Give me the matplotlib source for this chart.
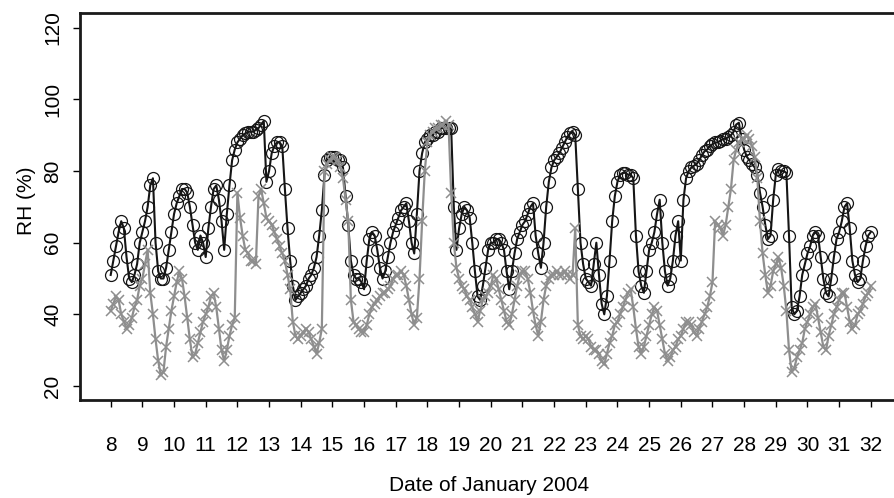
import numpy as np
import matplotlib
matplotlib.use("Agg")
import matplotlib.pyplot as plt

plt.rcParams['font.family'] = ['Liberation Sans', 'DejaVu Sans']

# RH readings, one every 2 hours, from 8 Jan 00:00 to 32 (= 1 Feb 00:00)
start_day = 8
step_hours = 2

# black line with circles
rh_black = [
    51, 55, 59, 63, 66, 64, 56, 50, 49, 51, 54, 60,          # 8
    63, 66, 70, 76, 78, 60, 52, 50, 50, 53, 58, 63,          # 9
    68, 71, 73, 75, 75, 74, 70, 65, 60, 58, 62, 60,          # 10
    56, 64, 70, 75, 76, 72, 66, 58, 68, 76, 83, 86,          # 11
    88, 89, 90, 90.5, 91, 91, 91, 91.5, 92, 93, 94, 77,      # 12
    80, 85, 87, 88, 88, 87, 75, 64, 55, 48, 44, 45,          # 13
    46, 47, 48, 50, 51, 53, 56, 62, 69, 79, 83, 84,          # 14
    84, 84, 83, 83, 81, 73, 65, 55, 51, 50, 50, 49,          # 15
    47, 55, 61, 63, 62, 58, 53, 50, 52, 56, 60, 63,          # 16
    65, 67, 69, 70, 71, 66, 60, 57, 68, 80, 85, 88,          # 17
    89, 90, 90, 91, 91, 92, 92, 92, 92, 92, 70, 58,          # 18
    64, 68, 70, 69, 67, 60, 52, 45, 44, 48, 53, 58,          # 19
    60, 60, 61, 61, 60, 58, 52, 47, 52, 57, 61, 63,          # 20
    65, 66, 68, 70, 71, 62, 57, 53, 60, 70, 77, 81,          # 21
    83, 84, 85, 86.5, 88, 89.5, 90.5, 91, 90, 75, 60, 54,    # 22
    50, 49, 48, 54, 60, 51, 43, 40, 45, 55, 66, 73,          # 23
    77, 79, 79.5, 79.5, 79, 79, 78, 62, 52, 48, 46, 52,      # 24
    58, 60, 63, 68, 72, 60, 52, 48, 50, 55, 62, 66,          # 25
    55, 72, 78, 80, 81, 81.5, 82, 83, 84.5, 85.5, 86, 87,    # 26
    87.5, 88, 88, 88.5, 89, 89, 89.5, 90, 91, 93, 93.5, 89,  # 27
    86, 84, 83, 82, 81, 79, 74, 70, 65, 61, 62, 72,          # 28
    79, 80.5, 80, 80, 79.5, 62, 42, 40, 41, 45, 51, 54,      # 29
    57, 59, 62, 63, 62, 56, 50, 46, 45, 50, 56, 61,          # 30
    63, 66, 70, 71, 64, 55, 51, 49, 50, 55, 59, 62,          # 31
    63,
]

# grey line with crosses
rh_grey = [
    41, 43, 45, 44, 40, 38, 36, 37, 39, 42, 44, 48,          # 8
    50, 54, 58, 46, 40, 33, 27, 23, 24, 31, 36, 41,          # 9
    45, 49, 52, 50, 45, 39, 33, 28, 29, 32, 35, 38,          # 10
    40, 42, 45, 46, 42, 36, 30, 27, 30, 34, 37, 39,          # 11
    74, 67, 62, 58, 57, 55, 55, 54, 73, 75, 71, 67,          # 12
    66, 65, 63, 61, 59, 57, 55, 51, 47, 38, 34, 33,          # 13
    34, 35, 36, 35, 33, 31, 29, 32, 36, 80, 82, 83,          # 14
    84, 84, 83, 81, 78, 72, 66, 44, 38, 37, 36, 35,          # 15
    35, 37, 40, 42, 43, 44, 45, 46, 46, 47, 48, 50,          # 16
    51, 51, 52, 51, 48, 44, 40, 37, 39, 50, 66, 80,          # 17
    88, 90, 91, 92, 92, 93, 93, 94, 93, 74, 60, 53,          # 18
    50, 48, 47, 45, 44, 42, 40, 38, 41, 44, 45, 46,          # 19
    48, 51, 50, 47, 44, 41, 38, 37, 40, 44, 48, 51,          # 20
    52, 52, 50, 46, 41, 37, 34, 38, 44, 48, 50, 51,          # 21
    51, 52, 51, 51, 52, 51, 50, 51, 64, 37, 34, 33,          # 22
    34, 33, 31, 30, 30, 29, 27, 26, 29, 32, 34, 37,          # 23
    38, 40, 42, 44, 46, 47, 42, 36, 31, 29, 31, 34,          # 24
    37, 40, 42, 41, 37, 33, 29, 27, 28, 30, 31, 33,          # 25
    34, 36, 38, 38, 37, 35, 34, 36, 38, 40, 42, 45,          # 26
    49, 66, 65, 64, 62, 65, 70, 75, 83, 86, 88, 89,          # 27
    89, 90, 89, 87, 84, 78, 66, 57, 51, 46, 48, 52,          # 28
    54, 56, 53, 48, 41, 30, 24, 25, 28, 30, 32, 36,          # 29
    38, 40, 42, 43, 39, 35, 31, 30, 34, 37, 40, 42,          # 30
    44, 46, 46, 42, 38, 36, 37, 40, 41, 43, 45, 46,          # 31
    48,
]

day_ticks = list(range(8, 33))
rh_ticks = [20, 40, 60, 80, 100, 120]

t = start_day + np.arange(len(rh_black)) * step_hours / 24

fig = plt.figure(figsize=(8.94, 4.98), dpi=100)
# axes run a bit past the right edge, like the cropped original
ax = fig.add_axes([0.0898, 0.1962, 0.9183, 0.7767])

ax.plot(t, rh_black, color='#151515', lw=1.5, marker='o', ms=8.6,
        mfc='none', mec='#151515', mew=0.9)
ax.plot(t, rh_grey, color='#8e8e8e', lw=1.6, marker='x', ms=6.5, mew=1.1)

ax.set_xlim(7.04, 32.96)
ax.set_ylim(16, 124)
ax.set_xticks(day_ticks)
ax.set_yticks(rh_ticks)

for s in ax.spines.values():
    s.set_linewidth(2)
    s.set_color('#1a1a1a')

ax.tick_params(axis='x', length=5, width=1, pad=21, labelsize=15)
ax.tick_params(axis='y', length=5, width=1, pad=8, labelsize=15, labelrotation=90)
for lab in ax.get_yticklabels():
    lab.set_va('center')

fig.text(27 / 894, 1 - 201 / 498, 'RH (%)', rotation=90, ha='center', va='center', fontsize=15)
fig.text(489 / 894, 1 - 485 / 498, 'Date of January 2004', ha='center', va='center', fontsize=15)

fig.savefig('out.png', dpi=100)
